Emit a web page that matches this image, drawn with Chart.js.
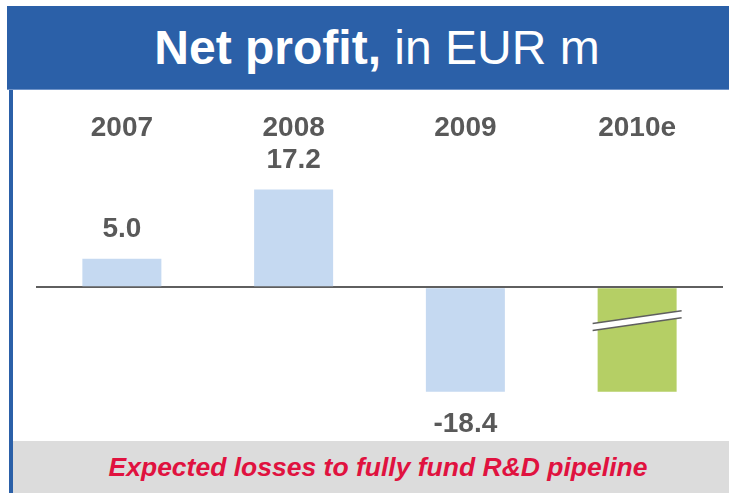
<!DOCTYPE html>
<html>
<head>
<meta charset="utf-8">
<script src="https://cdn.jsdelivr.net/npm/chart.js@4"></script>
<style>
  html, body { margin: 0; padding: 0; background: #fff; }
  body { width: 729px; height: 493px; position: relative; overflow: hidden; font-family: "Liberation Sans", Arial, sans-serif; }
  #header {
    position: absolute; left: 7px; top: 6px; width: 722px; height: 84px;
    background: #2B60A8; border-bottom: 1px solid #6F93C8;
    color: #fff; font-size: 48px; line-height: 84px; text-align: center;
    padding-left: 18px; box-sizing: border-box;
  }
  #header b { font-weight: bold; }
  #leftBorder { position: absolute; left: 9px; top: 90px; width: 4px; height: 403px; background: #2B60A8; }
  #footer {
    position: absolute; left: 13px; top: 441px; width: 716px; height: 52px;
    background: #DCDCDC; color: #E0123F; font-size: 26.5px; font-weight: bold; font-style: italic;
    line-height: 52px; text-align: center; padding-left: 14px; box-sizing: border-box;
  }
  #chart { position: absolute; left: 0; top: 0; }
</style>
</head>
<body>
<div id="header"><b>Net profit,</b> in EUR m</div>
<div id="leftBorder"></div>
<div id="footer">Expected losses to fully fund R&amp;D pipeline</div>
<canvas id="chart" width="729" height="493"></canvas>
<script>
// Datos del gráfico
const categories = ['2007', '2008', '2009', '2010e'];
const netProfit = [5.0, 17.2, -18.4, -18.4];
const isEstimate = [false, false, false, true]; // 2010e: barra cortada, sin etiqueta

// Colores
const actualColor = '#C5D9F1';
const estimateColor = '#B5CF65';
const textColor = '#595959';
const lineColor = '#5F5F5F';

// Plugin: etiquetas de valor encima / debajo de cada barra
const valueLabels = {
    id: 'valueLabels',
    afterDatasetsDraw(chart) {
        const ctx = chart.ctx;
        const meta = chart.getDatasetMeta(0);
        ctx.save();
        ctx.font = 'bold 28px "Liberation Sans", Arial, sans-serif';
        ctx.fillStyle = textColor;
        ctx.textAlign = 'center';
        meta.data.forEach((bar, i) => {
            if (isEstimate[i]) return;
            const v = netProfit[i];
            if (v >= 0) {
                ctx.textBaseline = 'bottom';
                ctx.fillText(v.toFixed(1), bar.x, bar.y - 15);
            } else {
                ctx.textBaseline = 'top';
                ctx.fillText(v.toFixed(1), bar.x, bar.y + 19);
            }
        });
        ctx.restore();
    }
};

// Plugin: marca de corte en la barra estimada
const breakMark = {
    id: 'breakMark',
    afterDraw(chart) {
        const ctx = chart.ctx;
        const meta = chart.getDatasetMeta(0);
        const yScale = chart.scales.y;
        meta.data.forEach((bar, i) => {
            if (!isEstimate[i]) return;
            const half = bar.width / 2 + 5;
            const x1 = bar.x - half, x2 = bar.x + half;
            const yc = yScale.getPixelForValue(netProfit[i] * 0.32);
            const rise = 6.4, gap = 7;
            ctx.save();
            // hueco blanco
            ctx.fillStyle = '#fff';
            ctx.beginPath();
            ctx.moveTo(x1, yc + rise - gap / 2);
            ctx.lineTo(x2, yc - rise - gap / 2);
            ctx.lineTo(x2, yc - rise + gap / 2);
            ctx.lineTo(x1, yc + rise + gap / 2);
            ctx.closePath();
            ctx.fill();
            // líneas del corte
            ctx.strokeStyle = lineColor;
            ctx.lineWidth = 1.5;
            ctx.beginPath();
            ctx.moveTo(x1, yc + rise - gap / 2);
            ctx.lineTo(x2, yc - rise - gap / 2);
            ctx.moveTo(x1, yc + rise + gap / 2);
            ctx.lineTo(x2, yc - rise + gap / 2);
            ctx.stroke();
            ctx.restore();
        });
    }
};

new Chart(document.getElementById('chart').getContext('2d'), {
    type: 'bar',
    data: {
        labels: categories,
        datasets: [{
            data: netProfit,
            backgroundColor: isEstimate.map(e => e ? estimateColor : actualColor),
            borderWidth: 0,
            categoryPercentage: 1,
            barPercentage: 0.46
        }]
    },
    options: {
        responsive: false,
        animation: false,
        devicePixelRatio: 1,
        layout: { padding: { left: 36, right: 6, top: 103.5, bottom: 53 } },
        plugins: { legend: { display: false }, tooltip: { enabled: false } },
        scales: {
            x: {
                position: 'top',
                grid: { display: false, drawTicks: false },
                border: { display: false },
                ticks: {
                    color: textColor,
                    padding: 8,
                    font: { family: '"Liberation Sans", Arial, sans-serif', size: 28, weight: 'bold' }
                }
            },
            y: {
                min: -26.9,
                max: 23.6,
                z: 1,
                ticks: { display: false },
                border: { display: false },
                grid: {
                    drawTicks: false,
                    lineWidth: 2,
                    color: c => c.tick && c.tick.value === 0 ? lineColor : 'rgba(0,0,0,0)'
                }
            }
        }
    },
    plugins: [valueLabels, breakMark]
});
</script>
</body>
</html>
